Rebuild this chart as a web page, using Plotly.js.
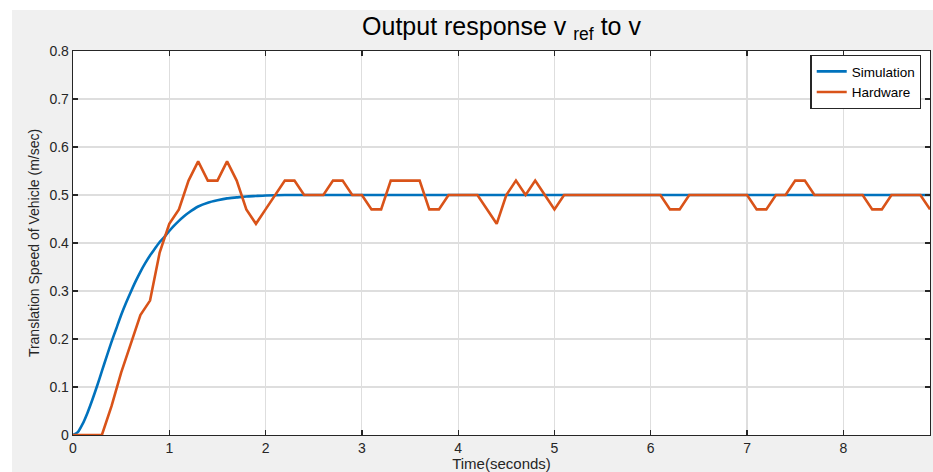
<!DOCTYPE html>
<html>
<head>
<meta charset="utf-8">
<script src="https://cdn.plot.ly/plotly-3.0.1.min.js"></script>
<style>html,body{margin:0;padding:0;background:#f0f0f0;}#chart{width:933px;height:472px;}</style>
</head>
<body>
<div id="chart"></div>
<script>
// Simulation
const simTime = [0, 0.05, 0.1, 0.15, 0.2, 0.25, 0.3, 0.35, 0.4, 0.45, 0.5, 0.55, 0.6, 0.65, 0.7, 0.75, 0.8, 0.85, 0.9, 0.95, 1.0, 1.05, 1.1, 1.15, 1.2, 1.3, 1.4, 1.5, 1.6, 1.7, 1.8, 1.9, 2.0, 2.2, 2.5, 8.9];
const simSpeed = [0, 0.006, 0.023, 0.046, 0.073, 0.102, 0.133, 0.164, 0.194, 0.222, 0.250, 0.275, 0.298, 0.320, 0.340, 0.358, 0.374, 0.388, 0.402, 0.413, 0.425, 0.436, 0.446, 0.455, 0.463, 0.476, 0.484, 0.489, 0.493, 0.495, 0.497, 0.498, 0.499, 0.500, 0.500, 0.500];

// Hardware
const hwTime = [0, 0.3, 0.4, 0.5, 0.6, 0.7, 0.8, 0.9, 1.0, 1.1, 1.2, 1.3, 1.4, 1.5, 1.6, 1.7, 1.8, 1.9, 2.0, 2.1, 2.2, 2.3, 2.4, 2.6, 2.7, 2.8, 2.9, 3.0, 3.1, 3.2, 3.3, 3.6, 3.7, 3.8, 3.9, 4.2, 4.3, 4.4, 4.5, 4.6, 4.7, 4.8, 4.9, 5.0, 5.1, 6.1, 6.2, 6.3, 6.4, 7.0, 7.1, 7.2, 7.3, 7.4, 7.5, 7.6, 7.7, 8.2, 8.3, 8.4, 8.5, 8.8, 8.9];
const hwSpeed = [0, 0, 0.06, 0.13, 0.19, 0.25, 0.28, 0.38, 0.44, 0.47, 0.53, 0.57, 0.53, 0.53, 0.57, 0.53, 0.47, 0.44, 0.47, 0.50, 0.53, 0.53, 0.50, 0.50, 0.53, 0.53, 0.50, 0.50, 0.47, 0.47, 0.53, 0.53, 0.47, 0.47, 0.50, 0.50, 0.47, 0.44, 0.50, 0.53, 0.50, 0.53, 0.50, 0.47, 0.50, 0.50, 0.47, 0.47, 0.50, 0.50, 0.47, 0.47, 0.50, 0.50, 0.53, 0.53, 0.50, 0.50, 0.47, 0.47, 0.50, 0.50, 0.47];

const xTicks = [0, 1, 2, 3, 4, 5, 6, 7, 8];
const yTicks = [0, 0.1, 0.2, 0.3, 0.4, 0.5, 0.6, 0.7, 0.8];
const seriesNames = ['Simulation', 'Hardware'];

const traces = [
  {x: simTime, y: simSpeed, name: seriesNames[0], type: 'scatter', mode: 'lines',
   line: {color: '#0072BD', width: 2.6, shape: 'spline', smoothing: 0.6}},
  {x: hwTime, y: hwSpeed, name: seriesNames[1], type: 'scatter', mode: 'lines',
   line: {color: '#D95319', width: 2.6}}
];

const FONT = 'Liberation Sans, Arial, sans-serif';
const axisCommon = {
  showline: true, linecolor: '#262626', linewidth: 1.3, mirror: 'ticks',
  ticks: 'inside', ticklen: 5, tickwidth: 1.3, tickcolor: '#262626',
  showgrid: true, gridcolor: '#dedede', gridwidth: 1.2, zeroline: false,
  tickfont: {family: FONT, size: 14, color: '#262626'}
};

const layout = {
  width: 933, height: 472,
  margin: {l: 73, r: 3, t: 51, b: 37},
  paper_bgcolor: '#f0f0f0', plot_bgcolor: '#ffffff',
  title: {text: 'Output response v <sub>ref</sub> to v', xref: 'paper', x: 0.5, xanchor: 'center',
          yref: 'container', y: 0.945, yanchor: 'middle',
          font: {family: FONT, size: 25, color: '#000000'}},
  xaxis: Object.assign({}, axisCommon, {
    range: [0, 8.9], tickvals: xTicks, ticktext: xTicks.map(String),
    title: {text: 'Time(seconds)', standoff: 7, font: {family: FONT, size: 15, color: '#262626'}}
  }),
  yaxis: Object.assign({}, axisCommon, {
    range: [0, 0.8], tickvals: yTicks, ticktext: yTicks.map(String),
    title: {text: 'Translation Speed of Vehicle (m/sec)', standoff: 6, font: {family: FONT, size: 14, color: '#262626'}}
  }),
  showlegend: true,
  legend: {x: 0.99, xanchor: 'right', y: 0.99, yanchor: 'top',
           bgcolor: '#ffffff', bordercolor: '#262626', borderwidth: 1.3,
           font: {family: FONT, size: 13.5, color: '#000000'},
           tracegroupgap: 0, itemwidth: 30},
  shapes: [
    {type: 'rect', xref: 'paper', yref: 'paper', x0: -0.09, x1: 1.01, y0: 1.1068, y1: 1.14,
     fillcolor: '#ffffff', line: {width: 0}, layer: 'below'},
    {type: 'rect', xref: 'paper', yref: 'paper', x0: -0.09, x1: -0.0712, y0: -0.1, y1: 1.14,
     fillcolor: '#ffffff', line: {width: 0}, layer: 'below'}
  ]
};

Plotly.newPlot('chart', traces, layout, {displayModeBar: false, staticPlot: true});
</script>
</body>
</html>
